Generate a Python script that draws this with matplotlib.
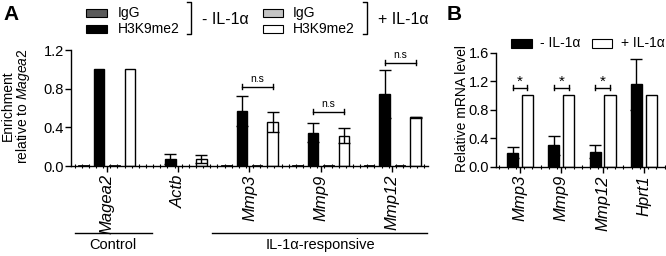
import numpy as np
import matplotlib
matplotlib.use("Agg")
import matplotlib.pyplot as plt
from matplotlib.patches import Rectangle
from matplotlib.lines import Line2D

plt.rcParams['font.family'] = ['Liberation Sans', 'DejaVu Sans']
plt.rcParams['mathtext.fontset'] = 'custom'
plt.rcParams['mathtext.rm'] = 'Liberation Sans'
plt.rcParams['mathtext.it'] = 'Liberation Sans:italic'

# ---------------- data ----------------
genes_A = ["Magea2", "Actb", "Mmp3", "Mmp9", "Mmp12"]
igg_minus = [0.010, 0.005, 0.008, 0.006, 0.006]
h3_minus = [1.0, 0.072, 0.569, 0.345, 0.745]
h3_minus_err = [0.0, 0.048, 0.155, 0.100, 0.248]
igg_plus = [0.010, 0.005, 0.006, 0.006, 0.006]
h3_plus = [1.0, 0.075, 0.455, 0.313, 0.503]
h3_plus_err = [0.0, 0.040, 0.100, 0.077, 0.008]
ns_height = [None, None, 0.82, 0.56, 1.07]
ticks_A = [0.0, 0.4, 0.8, 1.2]

genes_B = ["Mmp3", "Mmp9", "Mmp12", "Hprt1"]
b_minus = [0.197, 0.30, 0.21, 1.157]
b_minus_err = [0.073, 0.13, 0.09, 0.36]
b_plus = [1.0, 1.0, 1.0, 1.0]
star_height = [1.11, 1.11, 1.11, None]
ticks_B = [0.0, 0.4, 0.8, 1.2, 1.6]

# ---------------- layout ----------------
W, H = 666, 256
fig = plt.figure(figsize=(W / 100, H / 100), dpi=100)

def rect(l, t, r, b):
    return [l / W, 1 - b / H, (r - l) / W, (b - t) / H]

def fx(x):
    return x / W

def fy(y):
    return 1 - y / H

axA = fig.add_axes(rect(71, 50, 428, 166))
axB = fig.add_axes(rect(496, 52.7, 665, 166.7))

DG = '#5a5a5a'
LG = '#c4c4c4'

def style(ax):
    for s in ['top', 'right']:
        ax.spines[s].set_visible(False)
    for s in ['left', 'bottom']:
        ax.spines[s].set_linewidth(1.0)
    ax.tick_params(axis='y', length=4, width=1, pad=1, labelsize=10.5)
    ax.tick_params(axis='x', which='major', length=4, width=1, pad=2, labelsize=12)
    ax.tick_params(axis='x', which='minor', length=3, width=0.8, direction='inout')

# ---------------- panel A ----------------
xA = np.arange(len(genes_A))
bw = 0.147
offs = [-0.325, -0.108, 0.108, 0.325]
axA.bar(xA + offs[0], igg_minus, bw, color=DG, edgecolor='black', lw=0.6, zorder=2)
axA.bar(xA + offs[1], h3_minus, bw, color='black', edgecolor='black', lw=1, zorder=2)
axA.bar(xA + offs[2], igg_plus, bw, color=LG, edgecolor='black', lw=0.6, zorder=2)
axA.bar(xA + offs[3], h3_plus, bw, color='white', edgecolor='black', lw=1, zorder=2)
for i in range(len(genes_A)):
    if h3_minus_err[i] > 0:
        axA.errorbar(xA[i] + offs[1], h3_minus[i], yerr=h3_minus_err[i], fmt='none',
                     ecolor='black', elinewidth=1, capsize=4, capthick=1, zorder=3)
    if h3_plus_err[i] > 0:
        axA.errorbar(xA[i] + offs[3], h3_plus[i], yerr=h3_plus_err[i], fmt='none',
                     ecolor='black', elinewidth=1, capsize=4, capthick=1, zorder=3)
    if ns_height[i] is not None:
        x1, x2 = xA[i] + offs[1], xA[i] + offs[3]
        hgt = ns_height[i]
        axA.plot([x1, x2], [hgt, hgt], color='black', lw=1)
        axA.plot([x1, x1], [hgt - 0.025, hgt + 0.025], color='black', lw=1)
        axA.plot([x2, x2], [hgt - 0.025, hgt + 0.025], color='black', lw=1)
        axA.text((x1 + x2) / 2, hgt + 0.03, 'n.s', ha='center', va='bottom', fontsize=7.5)

axA.set_xlim(-0.5, 4.5)
axA.set_ylim(0, 1.2)
axA.set_yticks(ticks_A)
axA.set_yticklabels([f"{t:.1f}" for t in ticks_A])
axA.set_xticks(xA)
axA.set_xticklabels(genes_A, rotation=90, fontstyle='italic')
axA.set_xticks(np.arange(-0.45, 4.5, 0.1), minor=True)
style(axA)

# ---------------- panel B ----------------
xB = np.arange(len(genes_B))
bwB = 0.27
axB.bar(xB - 0.18, b_minus, bwB, color='black', edgecolor='black', lw=1, zorder=2)
axB.bar(xB + 0.18, b_plus, bwB, color='white', edgecolor='black', lw=1, zorder=2)
axB.errorbar(xB - 0.18, b_minus, yerr=b_minus_err, fmt='none', ecolor='black',
             elinewidth=1, capsize=4, capthick=1, zorder=3)
for i in range(len(genes_B)):
    if star_height[i] is not None:
        x1, x2 = xB[i] - 0.18, xB[i] + 0.18
        hgt = star_height[i]
        axB.plot([x1, x2], [hgt, hgt], color='black', lw=1)
        axB.plot([x1, x1], [hgt - 0.04, hgt + 0.04], color='black', lw=1)
        axB.plot([x2, x2], [hgt - 0.04, hgt + 0.04], color='black', lw=1)
        axB.text((x1 + x2) / 2, hgt - 0.02, '*', ha='center', va='bottom', fontsize=11)

axB.set_xlim(-0.58, 3.51)
axB.set_ylim(0, 1.6)
axB.set_yticks(ticks_B)
axB.set_yticklabels([f"{t:.1f}" for t in ticks_B])
axB.set_xticks(xB)
axB.set_xticklabels(genes_B, rotation=90, fontstyle='italic')
axB.set_xticks(np.arange(-0.5, 3.51, 0.2), minor=True)
style(axB)

# ---------------- texts ----------------
fig.text(fx(3), fy(5), 'A', fontsize=15, fontweight='bold', ha='left', va='top')
fig.text(fx(447), fy(5), 'B', fontsize=15, fontweight='bold', ha='left', va='top')

fig.text(fx(8), fy(106), 'Enrichment', rotation=90, ha='center', va='center', fontsize=10)
fig.text(fx(23), fy(106), r'relative to $\it{Magea2}$', rotation=90, ha='center', va='center', fontsize=10)
fig.text(fx(462), fy(108), 'Relative mRNA level', rotation=90, ha='center', va='center', fontsize=10)

# group lines under panel A
fig.add_artist(Line2D([fx(75), fx(152)], [fy(232.7), fy(232.7)], color='black', lw=1, transform=fig.transFigure))
fig.add_artist(Line2D([fx(212), fx(427)], [fy(232.7), fy(232.7)], color='black', lw=1, transform=fig.transFigure))
fig.text(fx(113), fy(245), 'Control', ha='center', va='center', fontsize=10.5)
fig.text(fx(320), fy(245), 'IL-1α-responsive', ha='center', va='center', fontsize=10.5)

# legend A
def patch(x1, y1, x2, y2, fc):
    fig.add_artist(Rectangle((fx(x1), fy(y2)), (x2 - x1) / W, (y2 - y1) / H,
                             transform=fig.transFigure, facecolor=fc, edgecolor='black', lw=0.8))

def bracket(x, y1, y2, stub=4):
    fig.add_artist(Line2D([fx(x - stub), fx(x), fx(x), fx(x - stub)],
                          [fy(y1), fy(y1), fy(y2), fy(y2)], color='black', lw=1,
                          transform=fig.transFigure))

patch(86, 9, 107, 16.5, DG)
patch(86, 25, 107, 32.5, 'black')
fig.text(fx(118), fy(12.5), 'IgG', ha='left', va='center', fontsize=10)
fig.text(fx(118), fy(29), 'H3K9me2', ha='left', va='center', fontsize=10)
bracket(191, 2, 34)
fig.text(fx(202), fy(19), '- IL-1α', ha='left', va='center', fontsize=11.5)

patch(263, 9, 283, 16.5, LG)
patch(263, 25, 283, 32.5, 'white')
fig.text(fx(293), fy(12.5), 'IgG', ha='left', va='center', fontsize=10)
fig.text(fx(293), fy(29), 'H3K9me2', ha='left', va='center', fontsize=10)
bracket(367, 2, 34)
fig.text(fx(378), fy(19), '+ IL-1α', ha='left', va='center', fontsize=11.5)

# legend B
patch(511, 38.5, 532, 48, 'black')
fig.text(fx(540), fy(43), '- IL-1α', ha='left', va='center', fontsize=10)
patch(592, 38.5, 612, 48, 'white')
fig.text(fx(621), fy(43), '+ IL-1α', ha='left', va='center', fontsize=10)

fig.savefig('out.png', dpi=100)
